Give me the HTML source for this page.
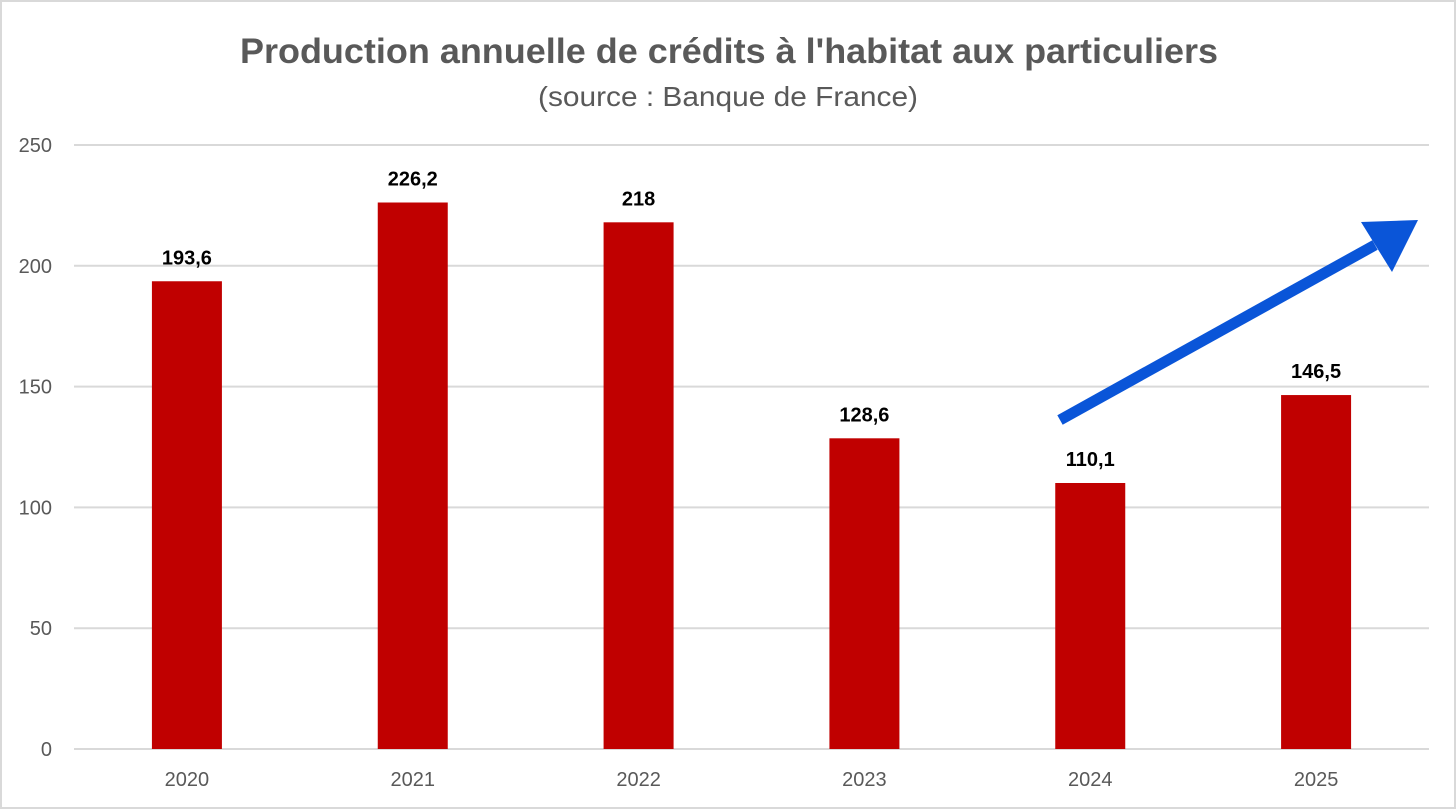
<!DOCTYPE html>
<html><head><meta charset="utf-8"><style>
html,body{margin:0;padding:0;background:#fff;}
svg{display:block;font-family:"Liberation Sans",Calibri,sans-serif;}
</style></head><body>
<svg id="chart" width="1456" height="812">
<rect x="1" y="1" width="1454" height="807" fill="#fff" stroke="#d9d9d9" stroke-width="2"/>
<text x="240" y="63" textLength="978" lengthAdjust="spacingAndGlyphs" font-size="35" font-weight="bold" fill="#595959">Production annuelle de crédits à l'habitat aux particuliers</text>
<text x="538" y="106" textLength="380" lengthAdjust="spacingAndGlyphs" font-size="28" fill="#595959">(source : Banque de France)</text>
<g id="grid"></g><g id="bars"></g>
<g>
<line x1="1060" y1="420" x2="1375" y2="245" stroke="#0a55d8" stroke-width="11"/>
<polygon points="1418,220 1361,222 1392,272" fill="#0a55d8"/>
</g>
</svg>
<script>
const categories=["2020","2021","2022","2023","2024","2025"];
const values=[193.6,226.2,218,128.6,110.1,146.5];
const labels=["193,6","226,2","218","128,6","110,1","146,5"];
const ticks=[0,50,100,150,200,250];
const NS="http://www.w3.org/2000/svg";
const left=74,right=1429,y0=749,y250=145;
const yScale=v=>y0-(v/250)*(y0-y250);
const band=(right-left)/categories.length;
const xCenter=i=>left+band*(i+0.5);
function mk(tag,attrs,parent){const e=document.createElementNS(NS,tag);for(const k in attrs)e.setAttribute(k,attrs[k]);parent.appendChild(e);return e;}
const grid=document.getElementById('grid'),bars=document.getElementById('bars');
ticks.forEach(t=>{
 const l=mk('line',{x1:left,x2:right,y1:yScale(t),y2:yScale(t),stroke:'#d9d9d9','stroke-width':2},grid);
 
 
 const tx=mk('text',{x:52,y:yScale(t)+7,'text-anchor':'end','font-size':20,fill:'#595959'},grid);
 tx.textContent=t;
 
 
});
categories.forEach((c,i)=>{
 const cx=xCenter(i),w=70;
 const r=mk('rect',{x:cx-w/2,y:yScale(values[i]),width:w,height:y0-yScale(values[i]),fill:'#c00000'},bars);
 
 
 const lb=mk('text',{x:cx,y:yScale(values[i])-17,'text-anchor':'middle','font-size':20,'font-weight':'bold',fill:'#000'},bars);
 lb.textContent=labels[i];
 
 
 const xl=mk('text',{x:cx,y:786,'text-anchor':'middle','font-size':20,fill:'#595959'},bars);
 xl.textContent=c;
 
 
});
</script>
</body></html>
